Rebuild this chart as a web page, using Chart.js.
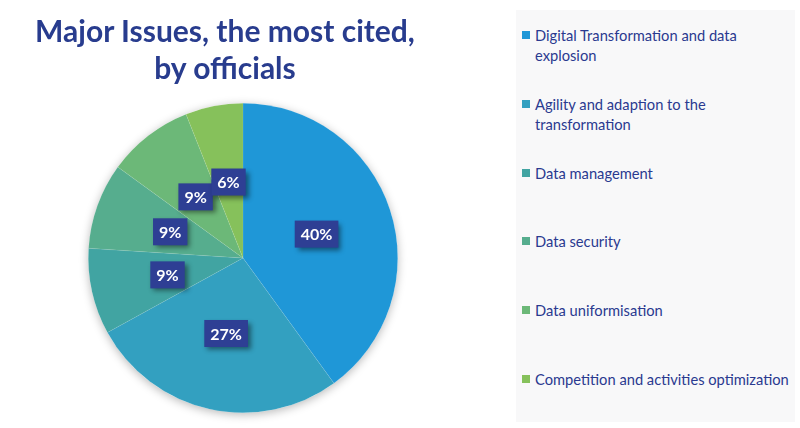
<!DOCTYPE html>
<html>
<head>
<meta charset="utf-8">
<script src="https://cdn.jsdelivr.net/npm/chart.js@4.4.1/dist/chart.umd.min.js"></script>
<style>
  html, body { margin:0; padding:0; background:#ffffff; }
  #wrap { position:relative; width:800px; height:428px; overflow:hidden; font-family: Lato, "Open Sans", sans-serif; }
  #title { position:absolute; left:0; width:450px; top:12px; text-align:center; color:#283c8e; font-weight:bold; font-size:30px; line-height:37px; }
  #chartBox { position:absolute; left:0; top:0; width:500px; height:428px; }
  #legend { position:absolute; left:516px; top:10px; width:279px; height:412px; background:#f8f8f9; }
  .item { position:absolute; left:6px; color:#2a3a90; font-size:14.7px; line-height:20px; }
  .item .sw { position:absolute; left:0; top:6px; width:8px; height:8px; }
  .item .tx { position:absolute; left:13px; top:0; white-space:nowrap; }
</style>
</head>
<body>
<div id="wrap">
  <div id="chartBox"><canvas id="c" width="500" height="428"></canvas></div>
  <div id="title">Major Issues, the most cited,<br>by officials</div>
  <div id="legend"></div>
</div>
<script>
const categories = [
  ["Digital Transformation and data", "explosion"],
  ["Agility and adaption to the", "transformation"],
  ["Data management"],
  ["Data security"],
  ["Data uniformisation"],
  ["Competition and activities optimization"]
];
const values = [40, 27, 9, 9, 9, 6];
const colors = ["#1f97d7", "#33a0c0", "#41a4a2", "#56ad8e", "#6cb878", "#86c15b"];

const pieShadow = {
  id: 'pieShadow',
  beforeDatasetsDraw(chart) {
    const meta = chart.getDatasetMeta(0);
    if (!meta.data.length) return;
    const a = meta.data[0];
    const ctx = chart.ctx;
    ctx.save();
    ctx.shadowColor = 'rgba(0,0,0,0.28)';
    ctx.shadowBlur = 10;
    ctx.shadowOffsetX = 0;
    ctx.shadowOffsetY = 2;
    ctx.beginPath();
    ctx.arc(a.x, a.y, a.outerRadius, 0, Math.PI * 2);
    ctx.fillStyle = '#ffffff';
    ctx.fill();
    ctx.restore();
  }
};

const boxLabels = {
  id: 'boxLabels',
  afterDatasetsDraw(chart) {
    const ctx = chart.ctx;
    const meta = chart.getDatasetMeta(0);
    const data = chart.data.datasets[0].data;
    ctx.save();
    ctx.font = 'bold 16px Lato, "Open Sans", sans-serif';
    ctx.textAlign = 'center';
    ctx.textBaseline = 'middle';
    meta.data.forEach((arc, i) => {
      const p = arc.getProps(['x','y','startAngle','endAngle','outerRadius']);
      const mid = (p.startAngle + p.endAngle) / 2;
      const r = p.outerRadius * 0.5;
      const cx = p.x + Math.cos(mid) * r;
      const cy = p.y + Math.sin(mid) * r;
      const txt = data[i] + '%';
      const w = ctx.measureText(txt).width + 12;
      const h = 27;
      ctx.save();
      ctx.shadowColor = 'rgba(0,0,0,0.45)';
      ctx.shadowBlur = 5;
      ctx.shadowOffsetX = 3;
      ctx.shadowOffsetY = 3;
      ctx.fillStyle = '#2e3f94';
      ctx.fillRect(cx - w / 2, cy - h / 2, w, h);
      ctx.restore();
      ctx.fillStyle = '#ffffff';
      ctx.fillText(txt, cx, cy + 1);
    });
    ctx.restore();
  }
};

const chart = new Chart(document.getElementById('c'), {
  type: 'pie',
  data: {
    labels: categories,
    datasets: [{
      data: values,
      backgroundColor: colors,
      borderColor: 'rgba(255,255,255,0.12)',
      borderWidth: 0.6
    }]
  },
  options: {
    responsive: false,
    animation: false,
    layout: { padding: { top: 103, bottom: 15, left: 88, right: 102 } },
    plugins: {
      legend: { display: false },
      tooltip: { enabled: false },
      title: { display: false }
    }
  },
  plugins: [pieShadow, boxLabels]
});

// HTML legend built from chart data
const legendEl = document.getElementById('legend');
const tops = [15, 84, 153, 221, 290, 359];
chart.data.labels.forEach((lab, i) => {
  const it = document.createElement('div');
  it.className = 'item';
  it.style.top = tops[i] + 'px';
  const sw = document.createElement('div');
  sw.className = 'sw';
  sw.style.background = chart.data.datasets[0].backgroundColor[i];
  const tx = document.createElement('div');
  tx.className = 'tx';
  tx.innerHTML = lab.join('<br>');
  it.appendChild(sw);
  it.appendChild(tx);
  legendEl.appendChild(it);
});
</script>
</body>
</html>
